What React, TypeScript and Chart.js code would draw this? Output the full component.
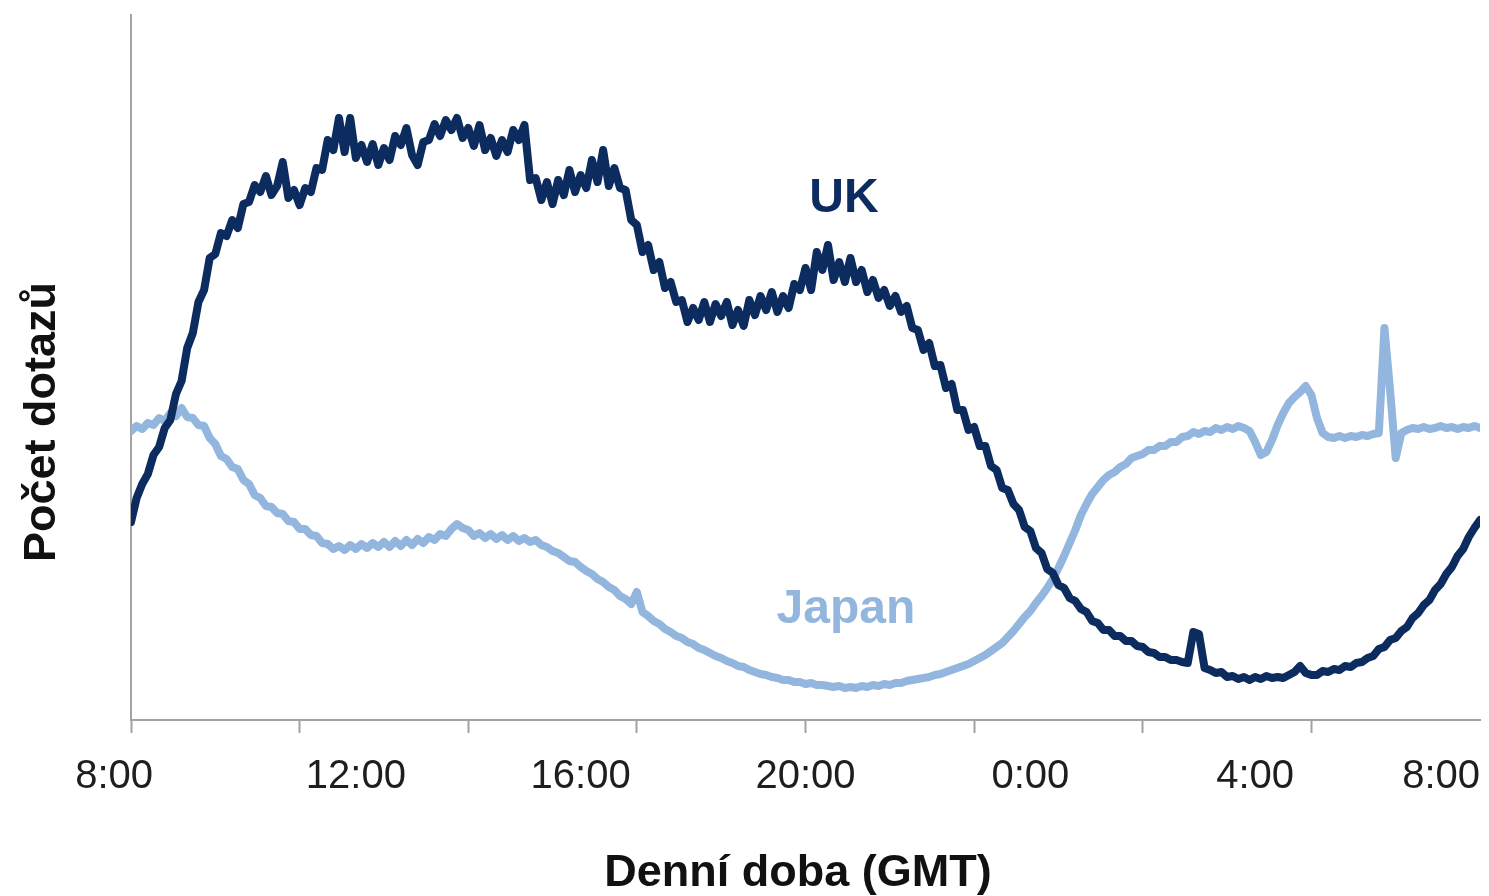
import React, { useEffect, useRef } from "react";
import { Chart, registerables } from "chart.js";

Chart.register(...registerables);

// Sampling: one value every 6 minutes, starting 8:00 GMT, over 24 hours (241 samples)
const SAMPLE_STEP_HOURS = 0.1;

// UK query counts (relative units)
const ukValues = [
  198, 222, 236, 246, 265, 273, 292, 300, 326, 339,
  372, 387, 418, 430, 462, 466, 487, 484, 500, 492,
  516, 518, 535, 528, 544, 525, 534, 558, 522, 530,
  515, 532, 528, 552, 550, 580, 570, 602, 568, 602,
  562, 575, 558, 576, 555, 572, 560, 584, 575, 592,
  565, 555, 578, 580, 596, 584, 600, 590, 602, 582,
  592, 574, 595, 570, 582, 564, 580, 568, 590, 580,
  595, 540, 542, 520, 538, 516, 540, 525, 550, 528,
  545, 532, 560, 538, 570, 534, 552, 532, 530, 500,
  495, 468, 475, 450, 458, 432, 438, 418, 420, 398,
  412, 400, 418, 398, 416, 404, 418, 395, 410, 394,
  420, 405, 424, 410, 428, 408, 424, 412, 436, 430,
  452, 430, 468, 450, 475, 440, 458, 438, 462, 438,
  450, 428, 440, 422, 430, 414, 424, 408, 414, 392,
  390, 370, 377, 354, 355, 332, 336, 310, 310, 290,
  293, 274, 274, 254, 250, 232, 230, 216, 210, 193,
  189, 172, 167, 151, 147, 135, 132, 122, 119, 111,
  108, 99, 97, 90, 90, 84, 84, 79, 79, 74,
  73, 68, 67, 63, 63, 60, 60, 58, 57, 88,
  86, 52, 50, 47, 48, 43, 44, 41, 43, 40,
  43, 41, 44, 42, 43, 42, 45, 48, 54, 47,
  45, 45, 49, 48, 51, 50, 54, 53, 57, 58,
  62, 64, 71, 73, 80, 82, 89, 93, 102, 107,
  115, 120, 130, 136, 146, 153, 164, 171, 183, 192,
  200,
];

// Japan query counts (relative units)
const japanValues = [
  289, 294, 291, 297, 295, 302, 299, 307, 304, 312,
  303, 302, 295, 294, 282, 276, 264, 261, 253, 251,
  240, 236, 225, 222, 214, 213, 207, 206, 199, 198,
  191, 191, 185, 184, 177, 176, 171, 174, 170, 175,
  171, 176, 172, 177, 173, 178, 173, 179, 174, 180,
  175, 181, 177, 183, 180, 186, 184, 191, 196, 192,
  190, 184, 187, 182, 186, 181, 185, 180, 184, 179,
  182, 178, 180, 175, 173, 169, 167, 163, 159, 158,
  153, 149, 146, 141, 138, 133, 130, 124, 121, 116,
  128, 108, 104, 99, 96, 91, 88, 84, 82, 78,
  76, 72, 70, 67, 64, 62, 59, 57, 54, 53,
  50, 48, 46, 45, 43, 42, 40, 40, 38, 38,
  36, 37, 35, 35, 34, 33, 34, 32, 33, 32,
  34, 33, 35, 34, 36, 35, 37, 37, 39, 40,
  41, 42, 43, 45, 46, 48, 50, 52, 54, 56,
  59, 62, 65, 69, 73, 77, 83, 89, 96, 103,
  109, 117, 124, 132, 141, 152, 164, 177, 190, 205,
  216, 226, 233, 240, 245, 248, 253, 256, 262, 264,
  266, 270, 270, 274, 274, 278, 278, 283, 284, 288,
  286, 289, 288, 292, 290, 293, 291, 294, 292, 289,
  278, 265, 268, 280, 295, 307, 317, 323, 328, 334,
  325, 302, 287, 283, 282, 284, 282, 284, 283, 285,
  284, 286, 287, 392, 330, 262, 287, 290, 292, 291,
  293, 291, 292, 294, 292, 293, 291, 293, 292, 294,
  292,
];

// Axis: hours since 8:00 GMT
const tickMarkHours = [0, 3, 6, 9, 12, 15, 18, 21];
const tickLabelHours = [0, 4, 8, 12, 16, 20, 24];
const tickLabels = ["8:00", "12:00", "16:00", "20:00", "0:00", "4:00", "8:00"];

const seriesNames = ["UK", "Japan"];
// in-chart series labels: [hour, value at text baseline]
const seriesLabelHours = [12.685, 12.72];
const seriesLabelValues = [508, 97];

const xTitle = "Denní doba (GMT)";
const yTitle = "Počet dotazů";

const UK_COLOR = "#0c2c5f";
const JAPAN_COLOR = "#93b6de";
const AXIS_COLOR = "#a3a3a3";
const FONT = '"Liberation Sans", Arial, sans-serif';

const textPlugin = {
  id: "customTexts",
  afterDraw(chart: any) {
    const { ctx, chartArea } = chart;
    const x = chart.scales.x;
    const y = chart.scales.y;
    ctx.save();

    // x tick labels
    ctx.fillStyle = "#1e1e1e";
    ctx.font = `40px ${FONT}`;
    ctx.textBaseline = "alphabetic";
    tickLabelHours.forEach((h, i) => {
      const px = x.getPixelForValue(h);
      let align = "center";
      let dx = 0;
      if (i === 0) {
        align = "right";
        dx = 22;
      } else if (i === tickLabelHours.length - 1) {
        align = "right";
      }
      ctx.textAlign = align;
      ctx.fillText(tickLabels[i], px + dx, chartArea.bottom + 68);
    });

    // series labels
    ctx.font = `bold 48px ${FONT}`;
    ctx.textAlign = "center";
    const colors = [UK_COLOR, JAPAN_COLOR];
    seriesNames.forEach((name, i) => {
      ctx.fillStyle = colors[i];
      ctx.fillText(name, x.getPixelForValue(seriesLabelHours[i]), y.getPixelForValue(seriesLabelValues[i]));
    });

    // axis titles
    ctx.fillStyle = "#111111";
    ctx.font = `bold 45px ${FONT}`;
    ctx.textAlign = "center";
    ctx.fillText(xTitle, 798, 886);
    ctx.translate(55, 422);
    ctx.rotate(-Math.PI / 2);
    ctx.fillText(yTitle, 0, 0);

    ctx.restore();
  },
};

export default function App() {
  const canvasRef = useRef<HTMLCanvasElement | null>(null);

  useEffect(() => {
    document.body.style.margin = "0";
    document.body.style.overflow = "hidden";
    const canvas = canvasRef.current;
    if (!canvas) return;

    const chart = new Chart(canvas, {
      type: "line",
      data: {
        datasets: [
          {
            label: seriesNames[0],
            data: ukValues.map((v, i) => ({ x: i * SAMPLE_STEP_HOURS, y: v })),
            borderColor: UK_COLOR,
            borderWidth: 8,
            pointRadius: 0,
            tension: 0,
            borderJoinStyle: "round",
            borderCapStyle: "round",
          },
          {
            label: seriesNames[1],
            data: japanValues.map((v, i) => ({ x: i * SAMPLE_STEP_HOURS, y: v })),
            borderColor: JAPAN_COLOR,
            borderWidth: 8,
            pointRadius: 0,
            tension: 0,
            borderJoinStyle: "round",
            borderCapStyle: "round",
          },
        ],
      },
      options: {
        animation: false,
        responsive: true,
        maintainAspectRatio: false,
        events: [],
        layout: { padding: { top: 15, right: 9, left: 0, bottom: 0 } },
        plugins: {
          legend: { display: false },
          tooltip: { enabled: false },
        },
        scales: {
          x: {
            type: "linear",
            min: 0,
            max: 24,
            afterBuildTicks: (s: any) => {
              s.ticks = tickMarkHours.map((v) => ({ value: v }));
            },
            ticks: { display: false },
            grid: {
              display: true,
              drawOnChartArea: false,
              drawTicks: true,
              tickLength: 13,
              tickColor: AXIS_COLOR,
              tickWidth: 2,
            },
            border: { display: true, color: AXIS_COLOR, width: 2 },
            afterFit: (s: any) => {
              s.height = 176;
            },
          },
          y: {
            type: "linear",
            min: 0,
            max: 705,
            ticks: { display: false },
            grid: { display: false },
            border: { display: true, color: AXIS_COLOR, width: 2 },
            afterFit: (s: any) => {
              s.width = 131;
            },
          },
        },
      } as any,
      plugins: [textPlugin],
    });

    return () => chart.destroy();
  }, []);

  return (
    <div style={{ position: "absolute", left: 0, top: 0, width: 1489, height: 896, background: "#fff" }}>
      <canvas ref={canvasRef} />
    </div>
  );
}
